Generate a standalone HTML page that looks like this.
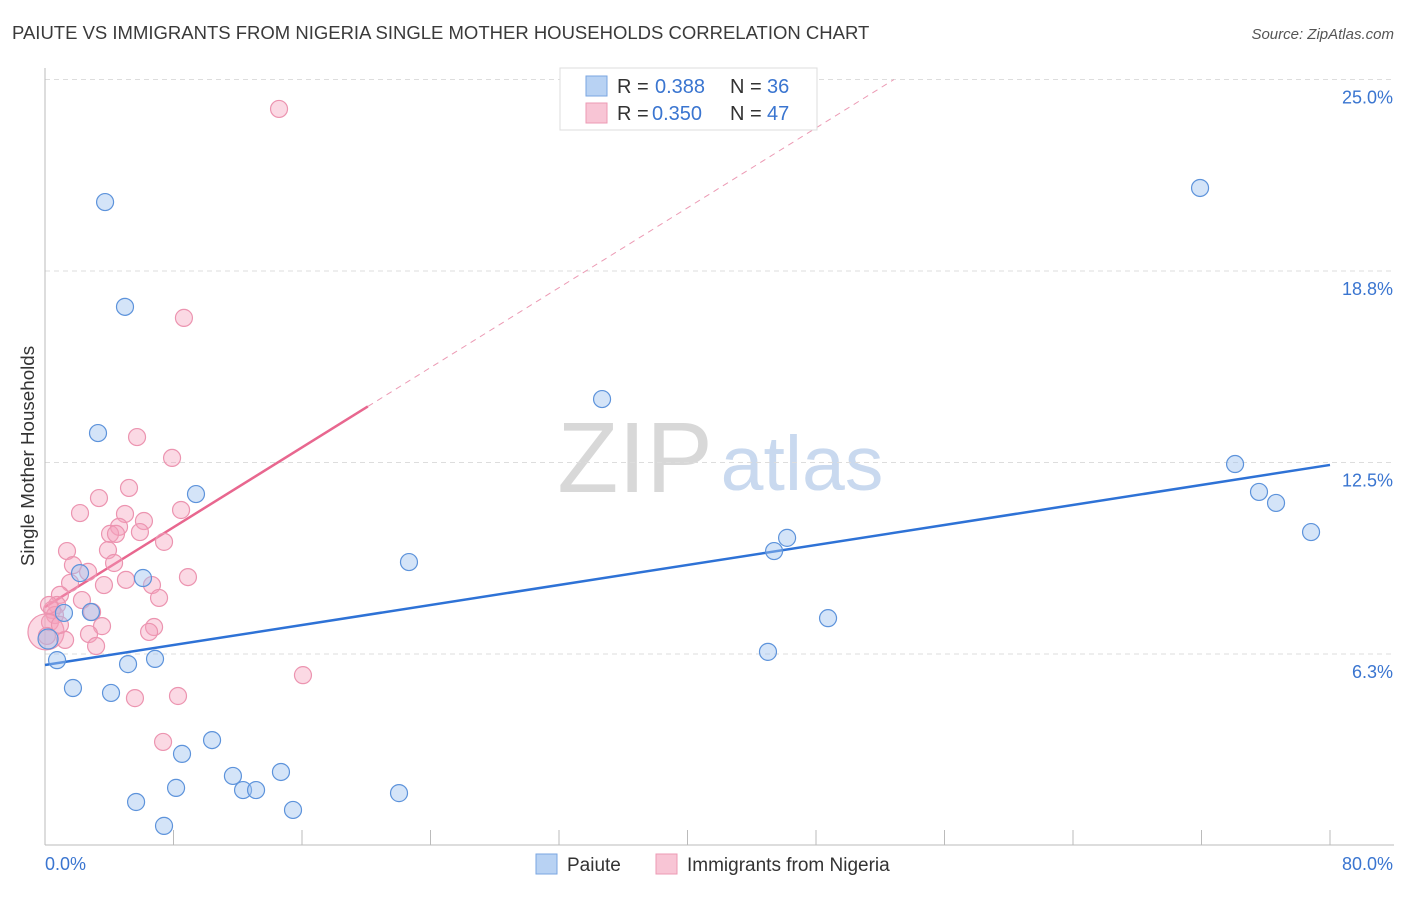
<!DOCTYPE html>
<html><head><meta charset="utf-8"><style>
body{margin:0;background:#fff;font-family:"Liberation Sans",sans-serif;}
svg text{font-family:"Liberation Sans",sans-serif;}
</style></head><body>
<svg id="chart" width="1406" height="892" xmlns="http://www.w3.org/2000/svg">
<text x="12" y="39" font-size="18.5" fill="#3a3a3a">PAIUTE VS IMMIGRANTS FROM NIGERIA SINGLE MOTHER HOUSEHOLDS CORRELATION CHART</text>
<text x="1394" y="39" font-size="15" fill="#555" text-anchor="end" font-style="italic">Source: ZipAtlas.com</text>
<text transform="translate(34,456) rotate(-90)" font-size="18.8" fill="#333" text-anchor="middle">Single Mother Households</text>
<g>
<text x="635" y="492" font-size="100" fill="#d8d8d8" text-anchor="middle" font-family="Liberation Serif">ZIP</text>
<text x="802" y="490" font-size="77" fill="#c9d9ef" text-anchor="middle">atlas</text>
</g>
<g id="grid"></g>
<g id="axes"></g>
<g id="trends"></g>
<g id="points"></g>
<g>
<rect x="560" y="68" width="257" height="62" fill="#fff" stroke="#ddd"/>
<rect x="586" y="76" width="21" height="20" fill="#b8d2f3" stroke="#7aa6e0"/>
<rect x="586" y="103" width="21" height="20" fill="#f8c5d5" stroke="#ec9ab4"/>
<text x="617" y="93" font-size="20" fill="#333">R = </text><text x="655" y="93" font-size="20" fill="#3a75d0">0.388</text>
<text x="730" y="93" font-size="20" fill="#333">N = </text><text x="767" y="93" font-size="20" fill="#3a75d0">36</text>
<text x="617" y="120" font-size="20" fill="#333">R = </text><text x="652" y="120" font-size="20" fill="#3a75d0">0.350</text>
<text x="730" y="120" font-size="20" fill="#333">N = </text><text x="767" y="120" font-size="20" fill="#3a75d0">47</text>
</g>
<g>
<rect x="536" y="854" width="21" height="20" fill="#b8d2f3" stroke="#7aa6e0"/>
<text x="567" y="871" font-size="19" fill="#333">Paiute</text>
<rect x="656" y="854" width="21" height="20" fill="#f8c5d5" stroke="#ec9ab4"/>
<text x="687" y="871" font-size="19" fill="#333">Immigrants from Nigeria</text>
</g>
</svg>
<script>
const yTicks=[25.0,18.75,12.5,6.25];
const yTickLabels=["25.0%","18.8%","12.5%","6.3%"];
const xTickLabels=["0.0%","80.0%"];
const paiuteX=[3.74,4.98,3.30,9.40,34.68,71.91,74.09,75.58,76.64,78.82,46.20,45.39,22.66,6.10,2.18,1.18,2.86,0.19,0.75,5.17,6.85,1.74,4.11,48.75,45.01,10.40,8.53,11.70,14.69,12.33,13.14,8.16,5.67,22.04,15.44,7.41];
const paiuteY=[21.00,17.58,13.46,11.47,14.57,21.46,12.45,11.54,11.18,10.23,10.04,9.61,9.25,8.73,8.89,7.59,7.62,6.74,6.05,5.92,6.09,5.14,4.98,7.42,6.32,3.44,2.99,2.27,2.40,1.81,1.81,1.88,1.42,1.71,1.16,0.64];
const nigeriaX=[14.57,8.65,5.73,7.91,5.23,3.36,2.18,8.47,6.16,4.98,4.61,4.05,4.42,5.91,7.41,1.37,3.92,1.74,2.68,4.30,5.04,6.66,8.90,1.56,3.67,7.10,0.93,2.30,0.75,0.44,0.62,0.31,0.06,2.93,3.55,2.74,6.79,6.48,3.18,16.06,5.60,8.28,7.35,0.25,0.12,1.25,0.93];
const nigeriaY=[24.04,17.22,13.33,12.65,11.67,11.34,10.85,10.95,10.59,10.82,10.40,10.17,10.17,10.23,9.91,9.61,9.64,9.15,8.93,9.22,8.67,8.50,8.76,8.57,8.50,8.08,8.18,8.01,7.85,7.69,7.52,7.29,6.97,7.62,7.16,6.90,7.13,6.97,6.51,5.56,4.81,4.88,3.38,7.85,6.84,6.71,7.20];
const paiuteTrend=[5.89,12.42];   // y at x=0 and x=80
const nigeriaTrend=[7.78,0.3258]; // intercept, slope
const ns="http://www.w3.org/2000/svg";
const X0=45,X1=1330,Y0=845.5,YS=191.5/6.25;
const xs=v=>X0+(v/80)*(X1-X0);
const ys=v=>Y0-v*YS;
function mk(t,a,p){const e=document.createElementNS(ns,t);for(const k in a)e.setAttribute(k,a[k]);p.appendChild(e);return e;}
const grid=document.getElementById('grid'),axes=document.getElementById('axes');
yTicks.forEach((t,i)=>{
 const y=ys(t);
 const l=mk('line',{x1:X0,x2:1394,y1:y,y2:y,stroke:'#ddd','stroke-dasharray':'5,4'},grid);
 
 
 const tx=mk('text',{x:1393,y:y+24,'font-size':18,fill:'#3a75d0','text-anchor':'end'},axes);
 tx.textContent=yTickLabels[i];
 
 
});
const ya=mk('line',{x1:X0,x2:X0,y1:68,y2:845,stroke:'#bbb'},axes);


const xa=mk('line',{x1:X0,x2:1394,y1:845,y2:845,stroke:'#bbb'},axes);


for(let v=8;v<=80;v+=8){
 const t=mk('line',{x1:xs(v),x2:xs(v),y1:830,y2:845,stroke:'#bbb'},axes);
 
 
}
const xl0=mk('text',{x:45,y:870,'font-size':18,fill:'#3a75d0'},axes);xl0.textContent=xTickLabels[0];


const xl1=mk('text',{x:1393,y:870,'font-size':18,fill:'#3a75d0','text-anchor':'end'},axes);xl1.textContent=xTickLabels[1];


const tr=document.getElementById('trends'),pts=document.getElementById('points');
function dot(x,y,fill,stroke,name,r){const c=mk('circle',{cx:xs(x),cy:ys(y),r:r,fill:fill,stroke:stroke,'stroke-width':1.2},pts);
 
 }
nigeriaX.forEach((x,i)=>dot(x,nigeriaY[i],'rgba(244,160,188,0.4)','#ec94b0','nigeria-point',i===32?18:8.5));
paiuteX.forEach((x,i)=>dot(x,paiuteY[i],'rgba(160,196,240,0.45)','#5d93db','paiute-point',i===17?10:8.5));
const bl=mk('line',{x1:xs(0),y1:ys(paiuteTrend[0]),x2:xs(80),y2:ys(paiuteTrend[1]),stroke:'#2e72d6','stroke-width':2.5},tr);


const pe=20.1,pd=(25-nigeriaTrend[0])/nigeriaTrend[1];
const pl=mk('line',{x1:xs(0),y1:ys(nigeriaTrend[0]),x2:xs(pe),y2:ys(nigeriaTrend[0]+nigeriaTrend[1]*pe),stroke:'#e8678f','stroke-width':2.5},tr);


const pdl=mk('line',{x1:xs(pe),y1:ys(nigeriaTrend[0]+nigeriaTrend[1]*pe),x2:xs(pd),y2:ys(25),stroke:'#ec9ab4','stroke-width':1,'stroke-dasharray':'6,5'},tr);


</script>
</body></html>
